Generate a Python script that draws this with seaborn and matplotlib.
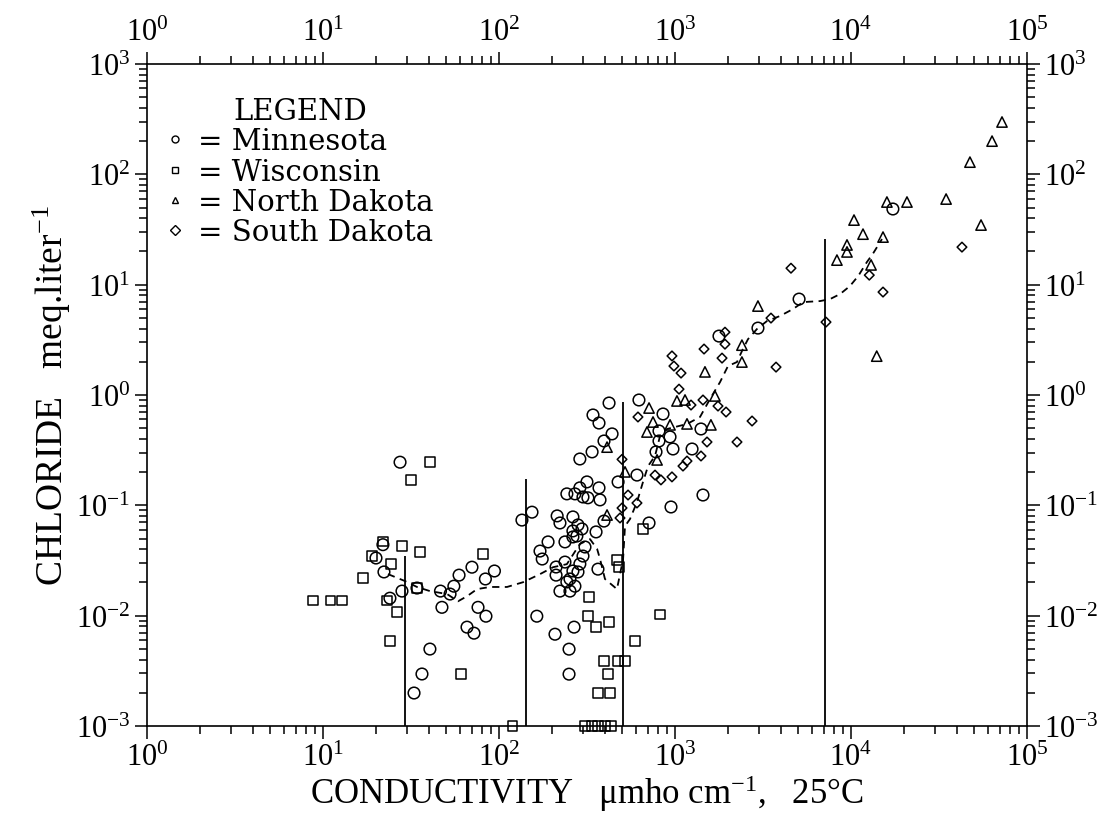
import matplotlib
matplotlib.use("Agg")
import matplotlib.pyplot as plt
import seaborn as sns
import pandas as pd
from matplotlib.lines import Line2D
from matplotlib.font_manager import FontProperties

# ---------------- data ----------------
mn_x = [27.4, 22.2, 20.0, 21.9, 28.1, 34.2, 24.0, 40.5, 36.5, 32.9, 46.5, 52.7, 47.4, 55.4,
        59.3, 70.2, 94.2, 83.7, 76.0, 84.3, 65.8, 72.1, 135, 154, 164, 208, 250, 250, 267,
        214, 222, 171, 190, 176, 237, 263, 277, 211, 211, 237, 263, 288, 281, 253, 243,
        222, 253, 270, 300, 308, 365, 263, 243, 270, 300, 320, 375, 263, 281, 296, 288,
        316, 370, 356, 395, 475, 608, 712, 288, 338, 395, 439, 342, 370, 422, 624, 780,
        5070, 2960, 1778, 855, 1405, 1250, 974, 937, 811, 811, 1442, 949, 17300]
mn_y = [0.246, 0.0249, 0.0333, 0.044, 0.0167, 0.0178, 0.0144, 0.00498, 0.00296, 0.00199,
        0.0167, 0.0157, 0.0119, 0.0185, 0.0233, 0.0275, 0.0254, 0.0215, 0.0119, 0.00989,
        0.00787, 0.00694, 0.0735, 0.0867, 0.00989, 0.00679, 0.00497, 0.00295, 0.00787,
        0.0802, 0.0692, 0.0385, 0.0466, 0.0326, 0.0466, 0.0517, 0.0527, 0.0276, 0.0233,
        0.0306, 0.0254, 0.0294, 0.0249, 0.0215, 0.0202, 0.0167, 0.0167, 0.0185, 0.0347,
        0.0419, 0.0264, 0.0586, 0.127, 0.127, 0.119, 0.117, 0.112, 0.0785, 0.0664, 0.0611,
        0.144, 0.163, 0.144, 0.0574, 0.0720, 0.163, 0.188, 0.0692, 0.263, 0.305, 0.383,
        0.444, 0.659, 0.557, 0.846, 0.901, 0.305, 7.40, 4.04, 3.42, 0.673, 0.492, 0.324,
        0.324, 0.417, 0.472, 0.383, 0.124, 0.0966, 48.5]

wi_x = [40.5, 31.6, 21.9, 28.1, 35.6, 19.0, 24.3, 16.9, 34.2, 23.1, 26.3, 8.78, 11.0, 12.8,
        24.0, 81.1, 60.8, 119, 325, 320, 356, 422, 468, 481, 593, 395, 475, 520, 416, 365,
        427, 308, 338, 365, 400, 433, 658, 822]
wi_y = [0.246, 0.170, 0.047, 0.0427, 0.0376, 0.0346, 0.0293, 0.0219, 0.0178, 0.0138, 0.0108,
        0.0138, 0.0138, 0.0138, 0.00589, 0.0361, 0.00295, 0.001, 0.0147, 0.0099, 0.00787,
        0.00873, 0.0320, 0.0276, 0.00589, 0.00387, 0.00387, 0.00387, 0.00295, 0.00199,
        0.00199, 0.001, 0.001, 0.001, 0.001, 0.001, 0.061, 0.0103]

nd_x = [411, 712, 693, 750, 791, 520, 411, 937, 1170, 1600, 1026, 1140, 1687, 1480, 2400,
        2400, 2960, 8320, 9490, 9490, 10400, 11700, 13000, 15200, 16000, 20800, 34700,
        47400, 63300, 54800, 14000, 72100]
nd_y = [0.337, 0.762, 0.462, 0.569, 0.258, 0.201, 0.0817, 0.536, 0.547, 0.536, 0.883, 0.901,
        0.98, 1.62, 1.99, 2.83, 6.40, 16.7, 22.9, 19.8, 38.5, 28.7, 15.1, 27.0, 56.1, 56.1,
        59.7, 129, 200, 34.7, 2.25, 298]

sd_x = [616, 500, 541, 608, 500, 487, 770, 832, 961, 961, 986, 1082, 1054, 1233, 1442, 1755,
        1950, 2740, 2250, 1520, 1405, 1170, 1110, 1462, 1923, 1923, 1850, 3750, 3510, 4560,
        7210, 12700, 15200, 42700]
sd_y = [0.632, 0.261, 0.124, 0.105, 0.0946, 0.0768, 0.188, 0.170, 0.181, 2.26, 1.83, 1.58,
        1.13, 0.811, 0.901, 0.794, 0.701, 0.581, 0.375, 0.375, 0.280, 0.252, 0.227, 2.61,
        3.71, 2.89, 2.16, 1.79, 4.98, 14.1, 4.58, 12.2, 8.57, 21.9]

# dashed running curve
curve_x = [23.4, 29.2, 34.2, 40.5, 50.7, 58.5, 65.8, 75.0, 88.9, 111, 137, 171, 203, 243,
           288, 329, 361, 375, 400, 468, 507, 520, 555, 608, 658, 703, 770, 822, 901, 1170,
           1387, 1581, 1803, 2000, 2250, 2430, 2600, 2920, 3330, 3950, 4680, 5340, 6670,
           7600, 8670, 9860, 11000, 12300, 13300, 15000]
curve_y = [0.0238, 0.0206, 0.0182, 0.0167, 0.0157, 0.0135, 0.0150, 0.0174, 0.0182, 0.0182,
           0.0201, 0.0238, 0.0275, 0.0293, 0.0446, 0.0494, 0.0402, 0.0326, 0.0215, 0.0174,
           0.0326, 0.0649, 0.0751, 0.107, 0.163, 0.227, 0.280, 0.425, 0.492, 0.546, 0.632,
           0.920, 1.31, 1.83, 1.99, 2.61, 3.21, 3.96, 4.68, 5.20, 6.01, 6.95, 7.10, 7.40,
           8.22, 9.71, 12.0, 16.0, 19.0, 25.9]

# vertical class-boundary lines
vline_x = [29.2, 141.5, 507, 7160]
vline_top = [0.0346, 0.173, 0.863, 25.9]

states = ["Minnesota", "Wisconsin", "North Dakota", "South Dakota"]
markers = ["o", "s", "^", "D"]
sizes = [70, 46, 55, 24]
xticks = [1, 10, 100, 1000, 10000, 100000]
yticks = [1e-3, 1e-2, 1e-1, 1, 10, 100, 1000]

# ---------------- plotting ----------------
sns.set_theme(style="white")
plt.rcParams["font.family"] = ["Liberation Serif", "DejaVu Serif"]
plt.rcParams["mathtext.fontset"] = "custom"
plt.rcParams["mathtext.rm"] = "Liberation Serif"
plt.rcParams["mathtext.it"] = "Liberation Serif:italic"
plt.rcParams["mathtext.bf"] = "Liberation Serif:bold"
plt.rcParams["text.color"] = "black"
plt.rcParams["axes.labelcolor"] = "black"
plt.rcParams["xtick.color"] = "black"
plt.rcParams["ytick.color"] = "black"

fig = plt.figure(figsize=(11.15, 8.2), dpi=100)
ax = fig.add_axes([147 / 1115, 1 - 727 / 820, 880 / 1115, 662 / 820])

frames = [
    pd.DataFrame({"x": mn_x, "y": mn_y}),
    pd.DataFrame({"x": wi_x, "y": wi_y}),
    pd.DataFrame({"x": nd_x, "y": nd_y}),
    pd.DataFrame({"x": sd_x, "y": sd_y}),
]
for df, m, s in zip(frames, markers, sizes):
    sns.scatterplot(data=df, x="x", y="y", marker=m, s=s, facecolor="none",
                    edgecolor="black", linewidth=1.1, clip_on=False, ax=ax, zorder=3)

sns.lineplot(x=curve_x, y=curve_y, sort=False, color="black", linewidth=1.3,
             dashes=False, linestyle=(0, (4, 3)), ax=ax, zorder=2)

ax.vlines(vline_x, ymin=1e-3, ymax=vline_top, colors="black", linewidth=1.3, zorder=2)

ax.set_xscale("log")
ax.set_yscale("log")
ax.set_xlim(1, 1e5)
ax.set_ylim(1e-3, 1e3)
ax.set_xticks(xticks)
ax.set_yticks(yticks)

for sp in ax.spines.values():
    sp.set_color("black")
    sp.set_linewidth(1.2)

ax.tick_params(which="both", direction="out", bottom=True, left=True, top=True, right=True,
               labelbottom=True, labelleft=True, labeltop=True, labelright=True,
               colors="black", labelcolor="black", width=1.1, labelsize=22)
ax.tick_params(which="major", length=9, pad=3)
ax.tick_params(which="minor", length=6)

ax.set_xlabel("CONDUCTIVITY   \u03bcmho cm$^{-1}$,   25\u00b0C", fontsize=25, labelpad=0,
              color="black")
ax.set_ylabel("CHLORIDE   meq.liter$^{-1}$", fontsize=27, labelpad=2, color="black")

handles = [Line2D([], [], marker=m, linestyle="none", markerfacecolor="none",
                  markeredgecolor="black", markersize=5, markeredgewidth=1.0)
           for m in markers]
leg_font = FontProperties(family="DejaVu Serif", size=21)
leg = ax.legend(handles, ["= " + s for s in states], title="LEGEND", loc="upper left",
                bbox_to_anchor=(0.022, 0.95), frameon=False, prop=leg_font,
                title_fontproperties=leg_font, handlelength=0.6, handletextpad=0.5,
                labelspacing=0.08, borderaxespad=0, borderpad=0)
for t in leg.get_texts():
    t.set_color("black")
leg.get_title().set_color("black")

fig.savefig("out.png", dpi=100)
